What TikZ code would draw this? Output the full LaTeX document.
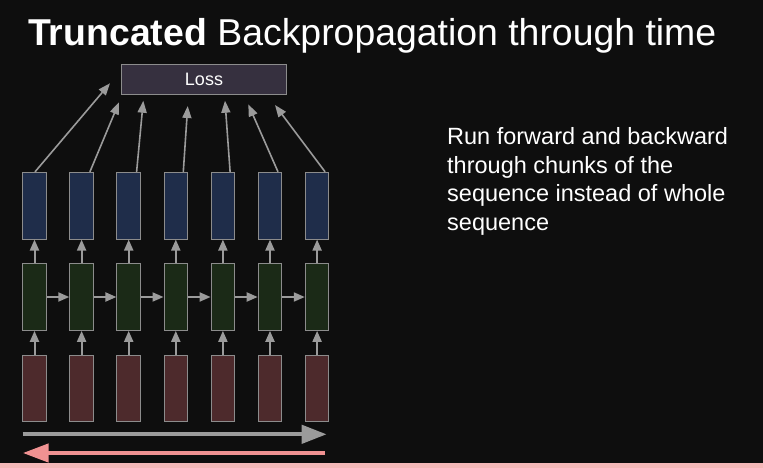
\documentclass[tikz,border=0pt]{standalone}
\usepackage{fontspec}
\setmainfont{Liberation Sans}
\usetikzlibrary{arrows.meta}
\definecolor{bg}{HTML}{0E0E0E}
\definecolor{bluefill}{HTML}{1F2D4A}
\definecolor{greenfill}{HTML}{1B2A17}
\definecolor{redfill}{HTML}{4D2A2C}
\definecolor{lossfill}{HTML}{36303F}
\definecolor{edgegray}{HTML}{8C8C8C}
\definecolor{arrowgray}{HTML}{9B9B9B}
\definecolor{pinkarrow}{HTML}{F09292}
\definecolor{pinkband}{HTML}{F4B8B8}
\begin{document}
\begin{tikzpicture}[x=1pt,y=-1pt,
  cell/.style={draw=edgegray,line width=1pt,inner sep=0pt,minimum width=23.6pt,minimum height=66.7pt},
  outcell/.style={cell,fill=bluefill},
  hidcell/.style={cell,fill=greenfill},
  incell/.style={cell,fill=redfill},
  small/.style={draw=arrowgray,line width=2pt,-{Triangle[length=11pt,width=9pt]}},
  lossarrow/.style={draw=arrowgray,line width=1.6pt,-{Triangle[length=12pt,width=9pt]}},
  txt/.style={text=white,inner sep=0pt,anchor=base west,font=\fontsize{23.5}{28.3}\selectfont}
]
\fill[bg] (0,0) rectangle (763,468);
\useasboundingbox (0,0) rectangle (763,468);
\fill[pinkband] (0,462.7) rectangle (763,468);

\node[text=white,inner sep=0pt,anchor=base west,font=\fontsize{37.4}{40}\selectfont] (title) at (28,45.7) {\textbf{Truncated} Backpropagation through time};

\node[draw=edgegray,line width=1pt,fill=lossfill,inner sep=0pt,minimum width=165.4pt,minimum height=29.7pt,text=white,font=\fontsize{18}{20}\selectfont] (loss) at (204,79.2) {Loss};

\foreach \i in {1,...,7}{
  \pgfmathsetmacro{\xx}{34.5+47.1*(\i-1)}
  \node[outcell] (b\i) at (\xx,205.7) {};
  \node[hidcell] (g\i) at (\xx,297) {};
  \node[incell] (r\i) at (\xx,388.4) {};
  \draw[small] (g\i.north) -- (b\i.south);
  \draw[small] (r\i.north) -- (g\i.south);
}
\foreach \i [evaluate=\i as \j using int(\i+1)] in {1,...,6}{
  \draw[small] (g\i.east) -- (g\j.west);
}

\coordinate (l1) at (110,83.3);
\coordinate (l2) at (119,102.3);
\coordinate (l3) at (143.3,100.7);
\coordinate (l4) at (187.7,106);
\coordinate (l5) at (225,100.7);
\coordinate (l6) at (248.3,104.3);
\coordinate (l7) at (275,105);
\draw[lossarrow] ([xshift=0.5pt]b1.north) -- (l1);
\draw[lossarrow] ([xshift=8.3pt]b2.north) -- (l2);
\draw[lossarrow] ([xshift=7.9pt]b3.north) -- (l3);
\draw[lossarrow] ([xshift=7.5pt]b4.north) -- (l4);
\draw[lossarrow] ([xshift=7.2pt]b5.north) -- (l5);
\draw[lossarrow] ([xshift=8pt]b6.north) -- (l6);
\draw[lossarrow] ([xshift=8pt]b7.north) -- (l7);

\coordinate (fs) at (22.7,434.3);
\coordinate (fe) at (326.7,434.3);
\draw[draw=arrowgray,line width=4.3pt,-{Triangle[length=25pt,width=18pt]}] (fs) -- (fe);
\coordinate (bs) at (325,453);
\coordinate (be) at (22.7,453);
\draw[draw=pinkarrow,line width=4.5pt,-{Triangle[length=26pt,width=18pt]}] (bs) -- (be);

\node[txt] (t1) at (447,145) {Run forward and backward};
\node[txt] (t2) at (447,173.3) {through chunks of the};
\node[txt] (t3) at (447,201.7) {sequence instead of whole};
\node[txt] (t4) at (447,230) {sequence};
\end{tikzpicture}
\end{document}
